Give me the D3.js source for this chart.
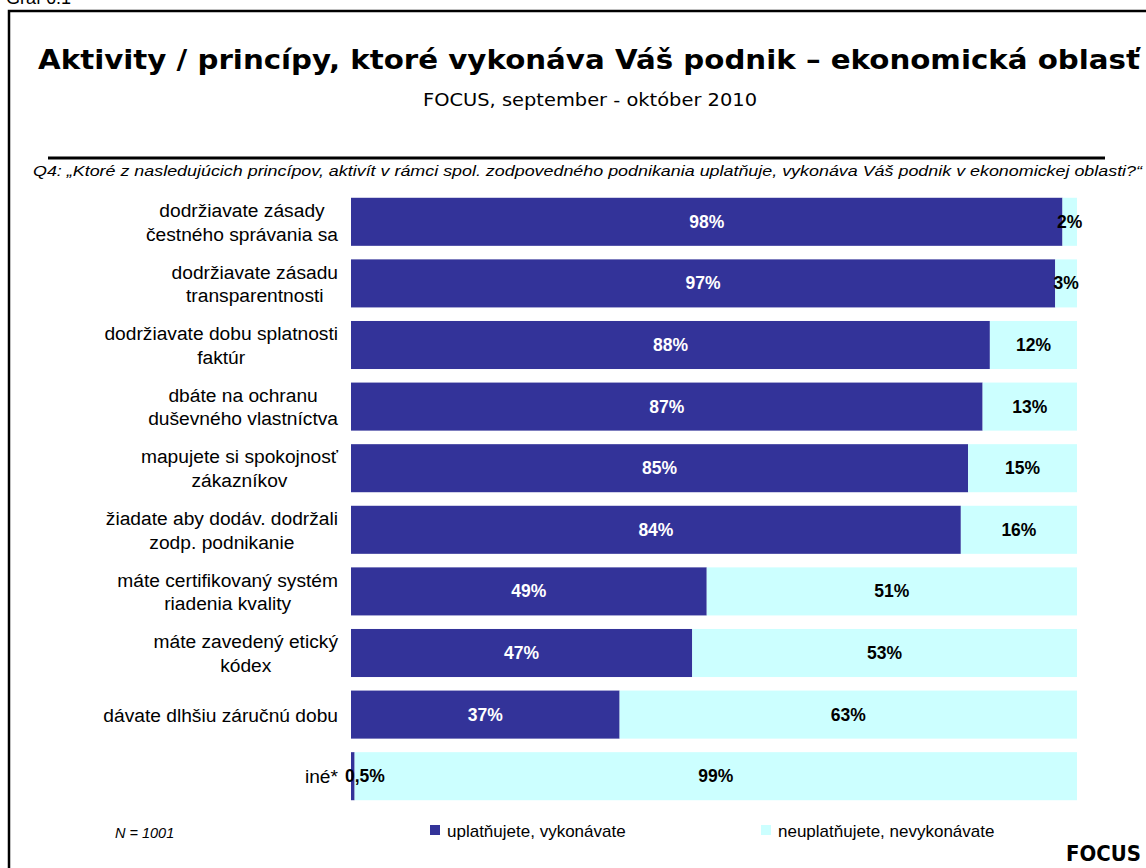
<!DOCTYPE html>
<html><head><meta charset="utf-8">
<script src="https://cdn.jsdelivr.net/npm/d3@7"></script>
<style>body{margin:0;background:#fff}svg{display:block}</style>
</head><body>
<svg id="c" width="1146" height="868"></svg>
<script>
const categories = [
  ["dodržiavate zásady", "čestného správania sa"],
  ["dodržiavate zásadu", "transparentnosti"],
  ["dodržiavate dobu splatnosti", "faktúr"],
  ["dbáte na ochranu", "duševného vlastníctva"],
  ["mapujete si spokojnosť", "zákazníkov"],
  ["žiadate aby dodáv. dodržali", "zodp. podnikanie"],
  ["máte certifikovaný systém", "riadenia kvality"],
  ["máte zavedený etický", "kódex"],
  ["dávate dlhšiu záručnú dobu"],
  ["iné*"]
];
const uplatnujete = [98, 97, 88, 87, 85, 84, 49, 47, 37, 0.5];
const neuplatnujete = [2, 3, 12, 13, 15, 16, 51, 53, 63, 99.5];
const uplLabels = ["98%", "97%", "88%", "87%", "85%", "84%", "49%", "47%", "37%", "0,5%"];
const neuLabels = ["2%", "3%", "12%", "13%", "15%", "16%", "51%", "53%", "63%", "99%"];
const seriesNames = ["uplatňujete, vykonávate", "neuplatňujete, nevykonávate"];
const colors = ["#333399", "#CCFFFF"];

const svg = d3.select("#c");
const W = 1146, H = 868;
const ARIAL = "Liberation Sans, Arial, sans-serif";
const VERD = "DejaVu Sans, Verdana, sans-serif";

svg.append("text").attr("x", 6).attr("y", 4).attr("font-family", ARIAL)
  .attr("font-size", 18).text("Graf 6.1");

svg.append("rect").attr("x", 9).attr("y", 11).attr("width", W + 10).attr("height", H + 10)
  .attr("fill", "none").attr("stroke", "#000").attr("stroke-width", 2.5);

svg.append("text").attr("x", 38).attr("y", 69)
  .attr("font-family", VERD).attr("font-weight", "bold").attr("font-size", 26)
  .attr("textLength", 1102).attr("lengthAdjust", "spacingAndGlyphs")
  .text("Aktivity / princípy, ktoré vykonáva Váš podnik – ekonomická oblasť");
svg.append("text").attr("x", 423).attr("y", 106)
  .attr("font-family", VERD).attr("font-size", 17)
  .attr("textLength", 334).attr("lengthAdjust", "spacingAndGlyphs")
  .text("FOCUS, september - október 2010");
svg.append("line").attr("x1", 48).attr("x2", 1105).attr("y1", 158).attr("y2", 158)
  .attr("stroke", "#000").attr("stroke-width", 3);
svg.append("text").attr("x", 33).attr("y", 176)
  .attr("font-family", ARIAL).attr("font-style", "italic").attr("font-size", 15.5)
  .attr("textLength", 1109).attr("lengthAdjust", "spacingAndGlyphs")
  .text("Q4: „Ktoré z nasledujúcich princípov, aktivít v rámci spol. zodpovedného podnikania uplatňuje, vykonáva Váš podnik v ekonomickej oblasti?“");

const x = d3.scaleLinear().domain([0, 100]).range([351, 1077]);
const y = d3.scaleBand().domain(d3.range(categories.length)).range([191, 807]).paddingInner(0.22).paddingOuter(0.11);

const g = svg.append("g");
categories.forEach((c, i) => {
  const yy = y(i), bh = y.bandwidth();
  const a = uplatnujete[i], b = neuplatnujete[i];
  g.append("rect").attr("x", x(0)).attr("y", yy).attr("width", x(a) - x(0)).attr("height", bh).attr("fill", colors[0]);
  g.append("rect").attr("x", x(a)).attr("y", yy).attr("width", x(a + b) - x(a)).attr("height", bh).attr("fill", colors[1]);
  const cy = yy + bh / 2 + 6;
  const narrow = (x(a) - x(0)) < 10;
  g.append("text").attr("x", narrow ? x(0) - 6 : (x(0) + x(a)) / 2).attr("y", cy)
    .attr("text-anchor", narrow ? "start" : "middle")
    .attr("font-family", ARIAL).attr("font-weight", "bold").attr("font-size", 17.5)
    .attr("fill", narrow ? "#000" : "#fff").text(uplLabels[i]);
  g.append("text").attr("x", (x(a) + x(a + b)) / 2).attr("y", cy).attr("text-anchor", "middle")
    .attr("font-family", ARIAL).attr("font-weight", "bold").attr("font-size", 17.5)
    .attr("fill", "#000").text(neuLabels[i]);
  // category label: multi-line block right-aligned to the axis, lines centered in the block
  const t = g.append("text").attr("text-anchor", "middle").attr("font-family", ARIAL).attr("font-size", 19.2);
  const lh = 23.5;
  const y0 = yy + bh / 2 - (c.length - 1) * lh / 2 + 7;
  const spans = c.map((line, k) => t.append("tspan").attr("y", y0 + k * lh).text(line));
  const maxW = d3.max(spans, s => s.node().getComputedTextLength());
  spans.forEach(s => s.attr("x", 338 - maxW / 2));
});

const leg = svg.append("g");
[430, 761].forEach((lx, k) => {
  leg.append("rect").attr("x", lx).attr("y", 825).attr("width", 10).attr("height", 10).attr("fill", colors[k]);
  leg.append("text").attr("x", lx + 17).attr("y", 837).attr("font-family", ARIAL)
    .attr("font-size", 17).text(seriesNames[k]);
});
svg.append("text").attr("x", 115).attr("y", 838).attr("font-family", ARIAL)
  .attr("font-style", "italic").attr("font-size", 14.5).text("N = 1001");
svg.append("text").attr("x", 1066).attr("y", 861)
  .attr("font-family", VERD).attr("font-weight", "bold").attr("font-size", 21)
  .attr("textLength", 75).attr("lengthAdjust", "spacingAndGlyphs")
  .text("FOCUS");
</script>
</body></html>
